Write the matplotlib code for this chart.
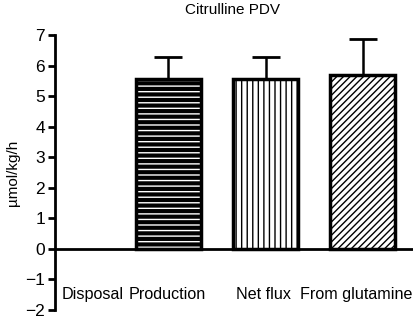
import numpy as np
import matplotlib
matplotlib.use("Agg")
import matplotlib.pyplot as plt

plt.rcParams['font.family'] = ['Liberation Sans', 'DejaVu Sans']
plt.rcParams['hatch.linewidth'] = 1.0

categories = ['Disposal', 'Production', 'Net flux', 'From glutamine']
means = [np.nan, 5.56, 5.57, 5.70]
errs = [np.nan, 0.74, 0.73, 1.16]
hatches = [None, '---', '|||', '/////']
faces = [None, 'black', 'white', 'white']
hatch_cols = [None, 'white', 'black', 'black']

fig = plt.figure(figsize=(4.13, 3.17), dpi=100)
ax = fig.add_axes([0.133, 0.022, 0.867, 0.867])

x = np.arange(len(categories))
w = 0.67
for i in range(1, len(categories)):
    # fill + hatch first, then thick outline on top
    ax.bar(x[i], means[i], w, color=faces[i], edgecolor=hatch_cols[i],
           hatch=hatches[i], linewidth=0, zorder=2)
    ax.bar(x[i], means[i], w, fill=False, edgecolor='black', linewidth=2.5, zorder=3)
    ax.errorbar(x[i], means[i], yerr=[[0], [errs[i]]], color='black',
                capsize=10, capthick=2, elinewidth=1.8, zorder=1)

ax.set_xlim(-0.17, 3.52)
ax.set_ylim(-2, 7)
ax.set_yticks(np.arange(-2, 8))
ax.set_yticklabels([str(v).replace('-', '\u2212') for v in range(-2, 8)], fontsize=12.5)
ax.tick_params(axis='y', length=5, width=2, pad=2)
ax.set_xticks([])

for s in ['top', 'right']:
    ax.spines[s].set_visible(False)
ax.spines['left'].set_linewidth(2)
ax.spines['bottom'].set_position(('data', 0))
ax.spines['bottom'].set_linewidth(2)

label_x = [0.22, 0.99, 1.98, 2.93]
for lx, lab in zip(label_x, categories):
    ax.text(lx, -1.5, lab, ha='center', va='center', fontsize=11.6)

ax.set_ylabel('\u00b5mol/kg/h', fontsize=11, labelpad=4)
fig.text(0.562, 0.97, 'Citrulline PDV', ha='center', va='center', fontsize=11)

fig.savefig('out.png', dpi=100)
